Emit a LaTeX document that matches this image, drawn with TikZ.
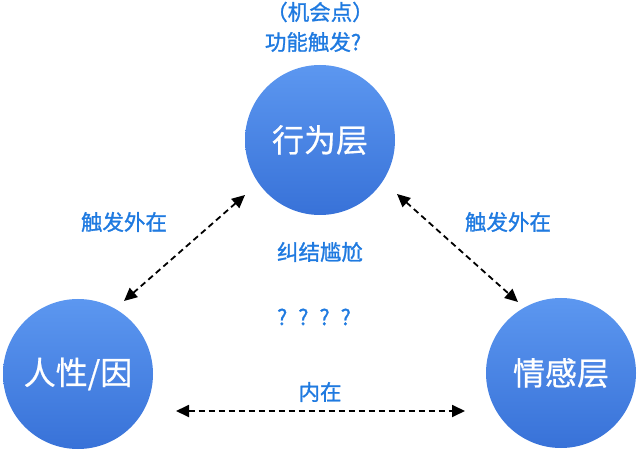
\documentclass[tikz,border=0pt]{standalone}
\usepackage{fontspec}
\setmainfont{Noto Sans CJK SC}
\newfontfamily\labfont{Noto Sans CJK SC}[FakeBold=1.2]
\newfontfamily\cirfont{Noto Sans CJK SC}[FakeBold=0.6]
\usetikzlibrary{arrows.meta}
\definecolor{lbl}{HTML}{1F7AE0}
\definecolor{ctop}{HTML}{5C97F0}
\definecolor{cbot}{HTML}{3872D8}
\tikzset{
  layer/.style={circle, minimum size=150pt, inner sep=0pt, top color=ctop, bottom color=cbot, draw=none,
    text=white, font=\cirfont\fontsize{32}{35}\selectfont},
  lab/.style={text=lbl, font=\labfont\fontsize{21.5}{24}\selectfont, inner sep=0pt},
  arr/.style={line width=1.8pt, dash pattern=on 6pt off 4pt, {Triangle[length=13pt,width=12pt]}-{Triangle[length=13pt,width=12pt]}}
}
\begin{document}
\begin{tikzpicture}[x=1pt,y=-1pt]
\useasboundingbox (0,0) rectangle (640,454);
\node[layer] (top) at (320,140) {行为层};
\node[layer] (left) at (78,374) {人性/因};
\node[layer] (right) at (561,373) {情感层};
\node[lab] (t1) at (320,12) {（机会点）};
\node[lab] (t2) at (313,42) {功能触发?};
\node[lab] (l1) at (124,222) {触发外在};
\node[lab] (r1) at (508,222) {触发外在};
\node[lab] (m1) at (320,252) {纠结尴尬};
\node[lab] (m2) at (314,317) {?\hspace{11pt}?\hspace{11pt}?\hspace{11pt}?};
\node[lab] (b1) at (320,392) {内在};
\coordinate (a1) at (245,195);
\coordinate (a2) at (124,301);
\coordinate (c1) at (397,194);
\coordinate (c2) at (518,302);
\coordinate (d1) at (176,411);
\coordinate (d2) at (465,411);
\draw[arr] (a1) -- (a2);
\draw[arr] (c1) -- (c2);
\draw[arr] (d1) -- (d2);
\end{tikzpicture}
\end{document}
